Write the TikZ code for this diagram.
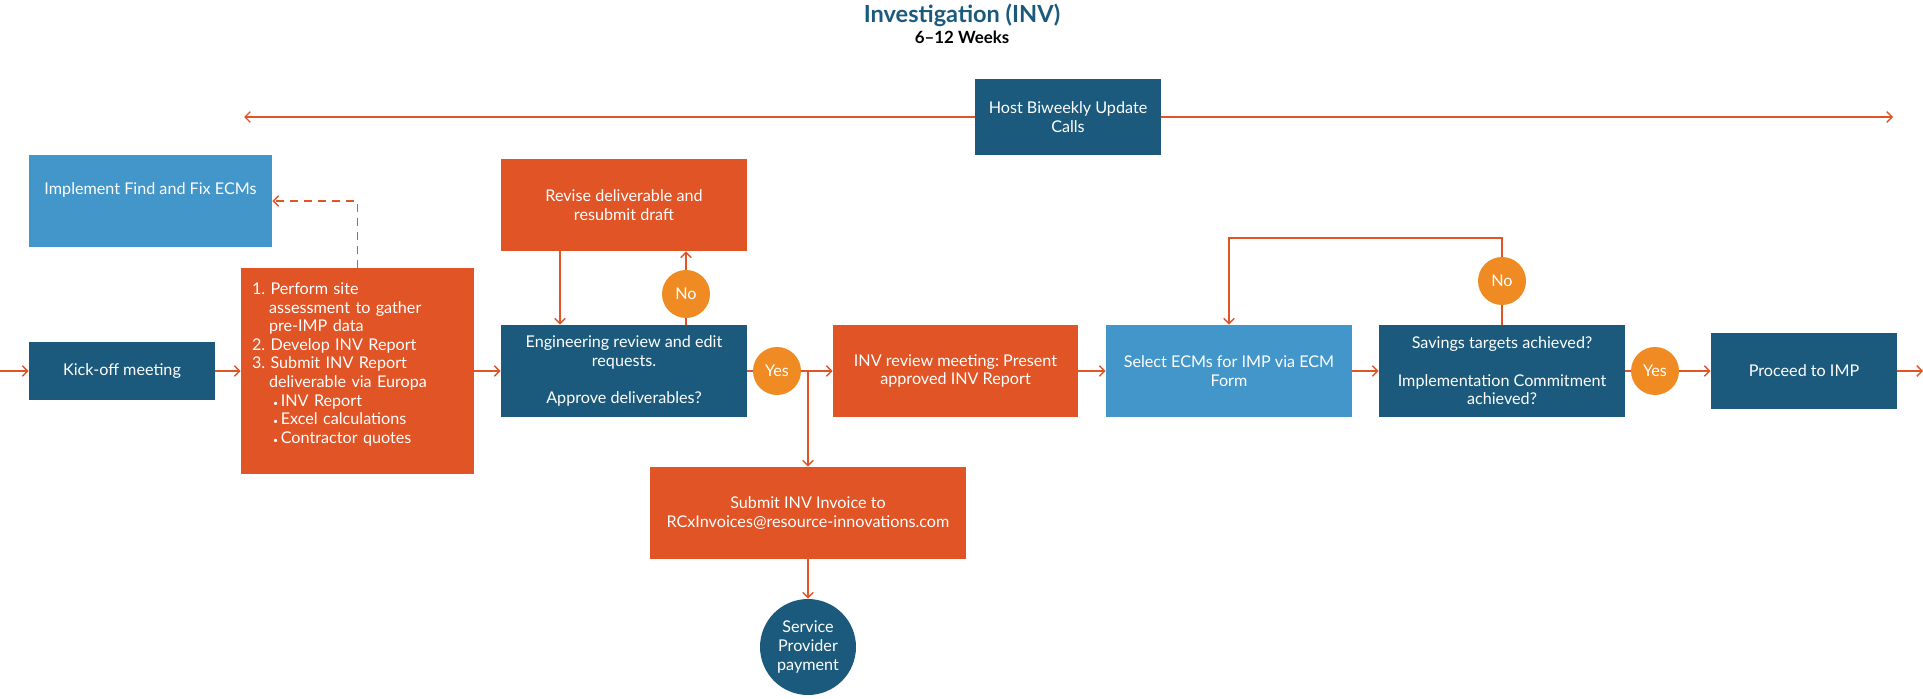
\documentclass[tikz,border=0pt]{standalone}
\usepackage{fontspec}
\setmainfont{Lato}
\usetikzlibrary{arrows.meta}
\definecolor{navy}{HTML}{1B5A7C}
\definecolor{sky}{HTML}{4296CA}
\definecolor{rust}{HTML}{E15426}
\definecolor{amber}{HTML}{F08B24}
\frenchspacing

\begin{document}
\begin{tikzpicture}[x=0.02cm, y=-0.02cm]
\tikzset{boite/.style={rectangle, text=white, align=center, inner sep=0pt, minimum width=4.92cm, minimum height=1.84cm, font=\fontsize{9.2}{10.6}\selectfont},
navybox/.style={boite, fill=navy},
skybox/.style={boite, fill=sky},
rustbox/.style={boite, fill=rust},
rond/.style={circle, fill=amber, text=white, inner sep=0pt, minimum size=0.96cm, font=\fontsize{9.2}{10.6}\selectfont},
fleche/.style={draw=rust, line width=0.8pt, -{Straight Barb[length=3pt,width=6pt]}},
trait/.style={draw=rust, line width=0.8pt}}
\useasboundingbox (0,0) rectangle (1923,699);
\node[text=navy, font=\fontsize{13.4}{16}\selectfont\bfseries] (title) at (962,15) {Investigation (INV)};
\node[font=\fontsize{9.6}{11}\selectfont\bfseries] (weeks) at (962,37) {6--12 Weeks};
\node[navybox, minimum width=3.72cm, minimum height=1.52cm] (host) at (1068,117) {Host Biweekly Update\\Calls};
\coordinate (hl) at (244,117);
\coordinate (hr) at (1893,117);
\node[skybox, minimum width=4.86cm, text depth=0.5cm] (find) at (150.5,201) {Implement Find and Fix ECMs};
\coordinate (in) at (0,371);
\node[navybox, minimum width=3.72cm, minimum height=1.16cm] (kick) at (122,371) {Kick-off meeting};
\node[rustbox, align=left, text width=4.22cm, minimum width=4.66cm, minimum height=4.12cm] (steps) at (357.5,371) {1. Perform site\\
\hspace*{0.34cm}assessment to gather\\
\hspace*{0.34cm}pre-IMP data\\
2. Develop INV Report\\
3. Submit INV Report\\
\hspace*{0.34cm}deliverable via Europa\\
\hspace*{0.42cm}{\tiny\textbullet}\,INV Report\\
\hspace*{0.42cm}{\tiny\textbullet}\,Excel calculations\\
\hspace*{0.42cm}{\tiny\textbullet}\,Contractor quotes\\[-0.054cm]~};
\node[rustbox] (rev) at (624,205) {Revise deliverable and\\resubmit draft};
\node[navybox] (eng) at (624,371) {Engineering review and edit\\requests.\\[10.6pt]Approve deliverables?};
\node[rond] (no1) at (686,294) {No};
\node[rond] (yes1) at (777,371) {Yes};
\node[rustbox, minimum width=4.9cm] (inv) at (955.5,371) {INV review meeting: Present\\approved INV Report};
\node[rustbox, minimum width=6.32cm] (submit) at (808,513) {Submit INV Invoice to\\RCxInvoices@resource-innovations.com};
\node[circle, fill=navy, text=white, align=center, inner sep=0pt, minimum size=1.92cm, font=\fontsize{9.2}{10.6}\selectfont] (pay) at (808,647) {Service\\Provider\\payment};
\node[skybox] (select) at (1229,371) {Select ECMs for IMP via ECM\\Form};
\node[navybox] (save) at (1502,371) {Savings targets achieved?\\[10.6pt]Implementation Commitment\\achieved?};
\node[rond] (no2) at (1502,281) {No};
\coordinate (loop) at (1502,238);
\node[rond] (yes2) at (1655,371) {Yes};
\node[navybox, minimum width=3.72cm, minimum height=1.52cm] (imp) at (1804,371) {Proceed to IMP};
\coordinate (out) at (1923,371);
\draw[fleche] (host) -- (hl);
\draw[fleche] (host) -- (hr);
\draw[fleche, dash pattern=on 0.16cm off 0.12cm] (steps.north) |- (find);
\draw[fleche] (in) -- (kick);
\draw[fleche] (kick) -- (steps);
\draw[fleche] (steps) -- (eng);
\draw[fleche] ([xshift=-1.28cm]rev.south) -- ([xshift=-1.28cm]eng.north);
\draw[trait] (no1 |- eng.north) -- (no1);
\draw[fleche] (no1) -- (no1 |- rev.south);
\draw[trait] (eng) -- (yes1);
\draw[fleche] (yes1) -- (inv);
\draw[fleche] (yes1 -| submit.north) -- (submit);
\draw[fleche] (submit) -- (pay);
\draw[fleche] (inv) -- (select);
\draw[fleche] (select) -- (save);
\draw[trait] (save) -- (no2);
\draw[fleche] (no2) -- (loop) -| (select);
\draw[trait] (save) -- (yes2);
\draw[fleche] (yes2) -- (imp);
\draw[fleche] (imp) -- (out);
\end{tikzpicture}
\end{document}
